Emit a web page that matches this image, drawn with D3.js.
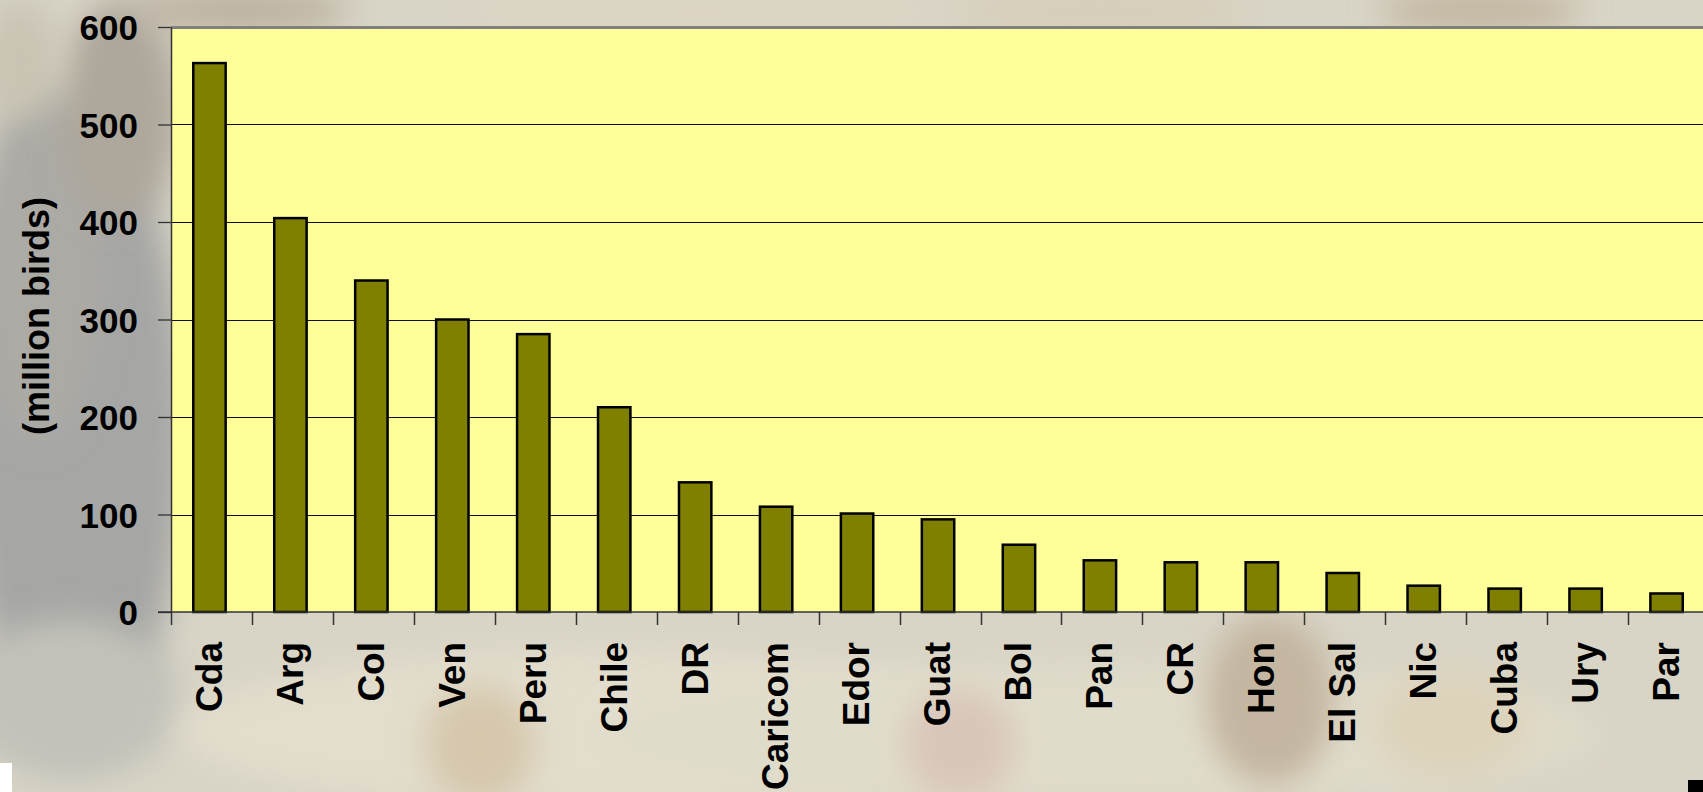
<!DOCTYPE html>
<html lang="en">
<head>
	<meta charset="UTF-8">
	<title>Poultry stock</title>
	<script src="https://cdn.jsdelivr.net/npm/d3@7"></script>
	<style>
		html,body{
			margin:0;
			padding:0;
			overflow:hidden;
			background:#d6d2c4;
		}
		svg text{
			font-family:"Liberation Sans", Arial, sans-serif;
			font-weight:bold;
			fill:#000;
		}
	</style>
</head>
<body>
	<svg id="chart" width="1703" height="792"></svg>
	<script>
		// data (million birds)
		var countries = ["Cda","Arg","Col","Ven","Peru","Chile","DR","Caricom","Edor","Guat",
			"Bol","Pan","CR","Hon","El Sal","Nic","Cuba","Ury","Par"];
		var birds = [563, 404, 340, 300, 285, 210, 133, 108, 101, 95,
			69, 53, 51, 51, 40, 27, 24, 24, 19];
		var yTicks = [0, 100, 200, 300, 400, 500, 600];
		var yTitle = "(million birds)";

		var W = 1703, H = 792;
		var pLeft = 171, pTop = 27, pBottom = 612,
			pRight = pLeft + 19 * 80.95;

		var svg = d3.select("#chart");
		var defs = svg.append("defs");
		defs.append("filter").attr("id","blur")
			.attr("x","-50%").attr("y","-50%").attr("width","200%").attr("height","200%")
			.append("feGaussianBlur").attr("stdDeviation",16);

		// blurry photo backdrop
		var bg = svg.append("g");
		bg.append("rect").attr("width",W).attr("height",H).attr("fill","#d8d4c6");
		var blobs = [
			[75, 430, 110, 320, "#a6a6a4"],
			[40, 260, 60, 180, "#acaaa5"],
			[120, 110, 60, 110, "#aea79b"],
			[20, 60, 40, 60, "#c9c4b4"],
			[70, 700, 110, 80, "#c3c2ba"],
			[600, 730, 420, 80, "#e2ddcc"],
			[1100, 735, 500, 70, "#e0dccb"],
			[480, 745, 55, 60, "#d6c8ad"],
			[960, 745, 55, 55, "#d9c6ba"],
			[1270, 700, 65, 85, "#c4b6a0"],
			[1450, 725, 80, 55, "#ddd3bb"],
			[240, 10, 110, 22, "#bab1a0"],
			[700, 10, 250, 18, "#ddd6c4"],
			[1480, 10, 100, 22, "#c2b6a0"],
			[1100, 10, 150, 18, "#d7cdb7"]
		];
		bg.selectAll("ellipse").data(blobs).enter().append("ellipse")
			.attr("cx",d=>d[0]).attr("cy",d=>d[1])
			.attr("rx",d=>d[2]).attr("ry",d=>d[3])
			.attr("fill",d=>d[4])
			.attr("filter","url(#blur)");

		var slot = d3.scaleBand().domain(countries).range([pLeft, pRight]).padding(0);
		var x = d3.scaleBand().domain(countries).range([pLeft, pRight])
			.paddingInner(0.6).paddingOuter(0.3);
		var y = d3.scaleLinear().domain([0, 600]).range([pBottom, pTop]);

		// plot area
		svg.append("rect")
			.attr("x",pLeft).attr("y",pTop)
			.attr("width",pRight-pLeft).attr("height",pBottom-pTop)
			.attr("fill","#ffff99");
		svg.append("line")
			.attr("x1",pLeft).attr("x2",pRight).attr("y1",pTop+0.5).attr("y2",pTop+0.5)
			.attr("stroke","#808080").attr("stroke-width",3);

		// gridlines
		svg.append("g").selectAll("line").data(yTicks.filter(d=>d>0 && d<600)).enter()
			.append("line")
			.attr("x1",pLeft).attr("x2",pRight)
			.attr("y1",d=>Math.round(y(d))+0.5).attr("y2",d=>Math.round(y(d))+0.5)
			.attr("stroke","#111").attr("stroke-width",1.2);

		// bars
		svg.append("g").selectAll("rect").data(birds).enter().append("rect")
			.attr("x",(d,i)=>x(countries[i]) - 2)
			.attr("y",d=>y(d))
			.attr("width",x.bandwidth())
			.attr("height",d=>pBottom-y(d))
			.attr("fill","#808000")
			.attr("stroke","#000")
			.attr("stroke-width",2.5);

		// y axis
		var yAxis = svg.append("g")
			.attr("transform","translate(" + pLeft + ",0)")
			.call(d3.axisLeft(y).tickValues(yTicks).tickSize(13).tickPadding(20).tickSizeOuter(0));
		yAxis.select(".domain").attr("stroke","#333").attr("stroke-width",1.5);
		yAxis.selectAll(".tick line").attr("stroke","#333").attr("stroke-width",1.3);
		yAxis.selectAll("text").style("font-size","35px").attr("dy","0.36em");

		// x axis: labels at category centres, ticks at slot edges
		var xAxis = svg.append("g")
			.attr("transform","translate(-3," + pBottom + ")")
			.call(d3.axisBottom(slot).tickSize(0).tickSizeOuter(0));
		xAxis.select(".domain").remove();
		xAxis.selectAll("text")
			.style("font-size","37px")
			.attr("text-anchor","end")
			.attr("transform","rotate(-90)")
			.attr("x",-30).attr("y",0).attr("dy","0.36em");

		svg.append("line")
			.attr("x1",pLeft-13).attr("x2",pRight)
			.attr("y1",pBottom).attr("y2",pBottom)
			.attr("stroke","#333").attr("stroke-width",1.5);
		svg.append("g").selectAll("line").data(countries).enter().append("line")
			.attr("x1",d=>Math.round(slot(d))+0.5).attr("x2",d=>Math.round(slot(d))+0.5)
			.attr("y1",pBottom).attr("y2",pBottom+13)
			.attr("stroke","#333").attr("stroke-width",1.5);

		// axis title
		svg.append("text")
			.attr("transform","translate(36,316) rotate(-90)")
			.attr("text-anchor","middle")
			.attr("dy","0.36em")
			.style("font-size","36px")
			.text(yTitle);

		// slide corner leftovers
		svg.append("rect").attr("x",0).attr("y",763).attr("width",12).attr("height",29).attr("fill","#fff");
		svg.append("rect").attr("x",1688).attr("y",780).attr("width",15).attr("height",12).attr("fill","#000");
	</script>
</body>
</html>
